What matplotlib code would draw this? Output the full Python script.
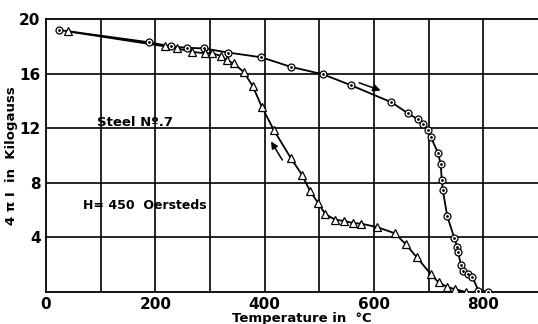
import numpy as np
import matplotlib
matplotlib.use("Agg")
import matplotlib.pyplot as plt

# heating curve (circles)
heat_t = [24, 189, 229, 258, 289, 333, 394, 448, 507, 558, 632, 662, 680, 689,
          698, 704, 717, 722, 724, 726, 734, 747, 752, 754, 759, 763, 772, 780,
          791, 809]
heat_i = [19.2, 18.3, 18.0, 17.9, 17.85, 17.55, 17.2, 16.5, 15.95, 15.15, 13.9,
          13.1, 12.65, 12.3, 11.9, 11.35, 10.2, 9.35, 8.2, 7.45, 5.55, 3.95, 3.3,
          2.9, 2.0, 1.55, 1.3, 1.1, 0.1, 0.0]

# cooling curve (triangles)
cool_t = [768, 748, 734, 718, 704, 678, 658, 638, 606, 577, 562, 545, 529, 511,
          498, 483, 468, 448, 417, 395, 378, 362, 344, 331, 320, 304, 290, 267,
          240, 218, 40]
cool_i = [0.0, 0.2, 0.37, 0.7, 1.3, 2.55, 3.5, 4.3, 4.75, 5.0, 5.05, 5.2, 5.3,
          5.7, 6.5, 7.4, 8.6, 9.8, 11.85, 13.55, 15.1, 16.1, 16.75, 16.97, 17.3,
          17.5, 17.5, 17.6, 17.85, 18.0, 19.1]

x_ticks = [0, 200, 400, 600, 800]
y_ticks = [4, 8, 12, 16, 20]

fig = plt.figure(figsize=(5.38, 3.24), dpi=100)
ax = fig.add_axes([0.0855, 0.099, 0.9145, 0.842])

for xv in range(100, 900, 100):
    ax.axvline(xv, color='black', lw=1.2, zorder=1)
for yv in y_ticks[:-1]:
    ax.axhline(yv, color='black', lw=1.2, zorder=1)

ax.plot(heat_t, heat_i, '-', color='black', lw=1.3, zorder=2)
ax.plot(heat_t, heat_i, 'o', ms=5, mfc='white', mec='black', mew=0.9, zorder=3)
ax.plot(heat_t, heat_i, '.', ms=2, color='black', zorder=4)
ax.plot(cool_t, cool_i, '-', color='black', lw=1.3, zorder=2)
ax.plot(cool_t, cool_i, '^', ms=5.2, mfc='white', mec='black', mew=0.9, zorder=3)

ax.annotate('', xy=(617, 14.7), xytext=(568, 15.4),
            arrowprops=dict(arrowstyle='-|>', color='black', lw=1.1,
                            mutation_scale=11))
ax.annotate('', xy=(409, 11.2), xytext=(435, 9.5),
            arrowprops=dict(arrowstyle='-|>', color='black', lw=1.1,
                            mutation_scale=10))

ax.text(93, 12.4, 'Steel Nº.7', fontsize=9.5, va='center', ha='left',
        fontweight='bold')
ax.text(67, 6.35, 'H= 450  Oersteds', fontsize=9, va='center', ha='left',
        fontweight='bold')

ax.set_xlim(0, 900)
ax.set_ylim(0, 20)
ax.set_xticks(x_ticks)
ax.set_yticks(y_ticks)
ax.tick_params(length=0, labelsize=11, pad=4)
for lab in ax.get_xticklabels() + ax.get_yticklabels():
    lab.set_fontweight('bold')
ax.spines['right'].set_visible(False)
for s in ['left', 'bottom', 'top']:
    ax.spines[s].set_linewidth(1.3)

ax.set_xlabel('Temperature in  °C', fontsize=9.5, fontweight='bold')
ax.xaxis.set_label_coords(0.52, -0.075)
ax.set_ylabel('4 π I  in  Kilogauss', fontsize=9.5, fontweight='bold')
ax.yaxis.set_label_coords(-0.057, 0.5)

fig.savefig('out.png', dpi=100)
